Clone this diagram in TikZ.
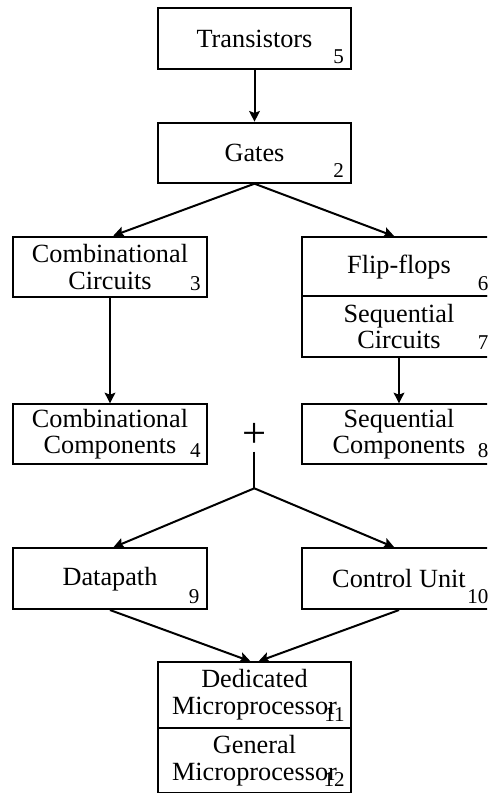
\documentclass[tikz,border=0pt]{standalone}
\usepackage{fontspec}
\setmainfont{Liberation Serif}
\usetikzlibrary{arrows.meta}
\begin{document}
\begin{tikzpicture}[x=0.75pt,y=-0.75pt,
 blk/.style={draw, line width=1.5pt, rectangle, minimum width=145pt, minimum height=45pt, inner sep=0pt, align=center, font=\fontsize{19.7pt}{20pt}\selectfont},
 num/.style={anchor=base east, inner sep=0pt, font=\fontsize{15.8pt}{16pt}\selectfont},
 arr/.style={line width=1.5pt, -{Stealth[length=8pt,width=8pt,inset=1.5pt]}},
 ln/.style={line width=1.5pt}]
\useasboundingbox (0,0) rectangle (487,793);
\clip (0,0) rectangle (487,793);
% boxes
\node[blk, minimum height=45.75pt] (tr) at (254.5,38.5) {Transistors};
\node[blk] (ga) at (254.5,152.7) {Gates};
\node[blk] (cc) at (110,266.7) {Combinational\\Circuits};
\node[blk, minimum height=44.25pt] (ff) at (399,266.8) {Flip-flops};
\node[blk, minimum height=45.2pt] (sc) at (399,326.6) {Sequential\\Circuits};
\node[blk, minimum height=44.75pt] (cm) at (110,434.2) {Combinational\\Components};
\node[blk, minimum height=44.75pt] (sm) at (399,434.2) {Sequential\\Components};
\node[blk, minimum height=45.5pt] (dp) at (110,578.7) {Datapath};
\node[blk, minimum height=45.5pt] (cu) at (399,578.7) {Control Unit};
\node[blk, minimum height=49pt] (dm) at (254.5,695) {Dedicated\\Microprocessor};
\node[blk, minimum height=49pt] (gm) at (254.5,760.4) {General\\Microprocessor};
% numbers
\node[num] (n5) at ([xshift=-6pt,yshift=5pt]tr.south east) {5};
\node[num] (n2) at ([xshift=-6pt,yshift=5pt]ga.south east) {2};
\node[num] (n3) at ([xshift=-5pt,yshift=5.5pt]cc.south east) {3};
\node[num] (n6) at ([xshift=-6pt,yshift=5pt]ff.south east) {6};
\node[num] (n7) at ([xshift=-6pt,yshift=6.5pt]sc.south east) {7};
\node[num] (n4) at ([xshift=-5pt,yshift=5.5pt]cm.south east) {4};
\node[num] (n8) at ([xshift=-6pt,yshift=5.5pt]sm.south east) {8};
\node[num] (n9) at ([xshift=-6pt,yshift=5pt]dp.south east) {9};
\node[num] (n10) at ([xshift=-6pt,yshift=5pt]cu.south east) {10};
\node[num] (n11) at ([xshift=-5.5pt,yshift=5.5pt]dm.south east) {11};
\node[num] (n12) at ([xshift=-5.5pt,yshift=5.5pt]gm.south east) {12};
% plus
\node[inner sep=0pt, font=\fontsize{32pt}{32pt}\selectfont] (plus) at (254.3,435) {+};
\coordinate (pb) at (254.3,451.7);
\coordinate (sp) at (254.3,488.3);
% connectors
\draw[arr] (tr.south) -- (ga.north);
\draw[arr] (ga.south) -- ([xshift=2.5pt]cc.north);
\draw[arr] (ga.south) -- ([xshift=-3.5pt]ff.north);
\draw[arr] (cc.south) -- (cm.north);
\draw[arr] (sc.south) -- (sm.north);
\draw[ln] (pb) -- (sp);
\draw[arr] (sp) -- ([xshift=2.5pt]dp.north);
\draw[arr] (sp) -- ([xshift=-3.5pt]cu.north);
\draw[arr] (dp.south) -- ([xshift=-3pt]dm.north);
\draw[arr] (cu.south) -- ([xshift=3pt]dm.north);
\end{tikzpicture}
\end{document}
